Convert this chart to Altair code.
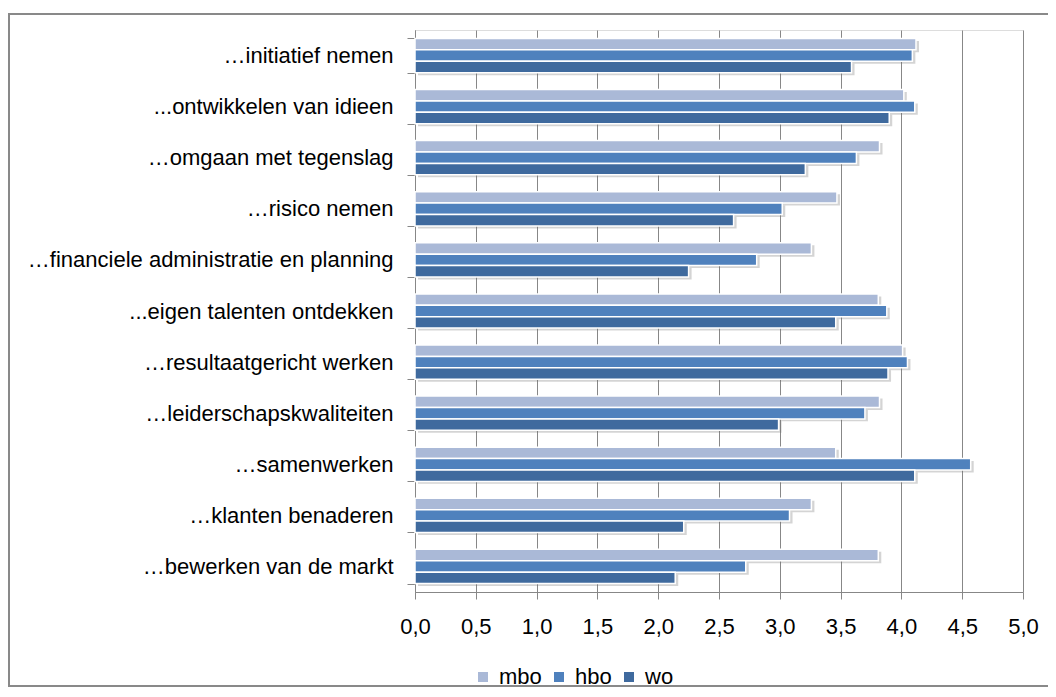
import altair as alt
import pandas as pd

categories = [
    "…initiatief nemen",
    "...ontwikkelen van idieen",
    "…omgaan met tegenslag",
    "…risico nemen",
    "…financiele administratie en planning",
    "...eigen talenten ontdekken",
    "…resultaatgericht werken",
    "…leiderschapskwaliteiten",
    "…samenwerken",
    "…klanten benaderen",
    "…bewerken van de markt",
]
series = ["mbo", "hbo", "wo"]
mbo = [4.12, 4.02, 3.82, 3.47, 3.26, 3.81, 4.01, 3.82, 3.46, 3.26, 3.81]
hbo = [4.09, 4.11, 3.63, 3.02, 2.81, 3.88, 4.05, 3.70, 4.57, 3.08, 2.72]
wo = [3.59, 3.90, 3.21, 2.62, 2.25, 3.46, 3.89, 2.99, 4.11, 2.21, 2.14]
colors = ["#AAB9D7", "#4F81BD", "#3F6A9E"]
x_ticks = [0, 0.5, 1, 1.5, 2, 2.5, 3, 3.5, 4, 4.5, 5]

rows = []
for name, vals in zip(series, [mbo, hbo, wo]):
    for c, v in zip(categories, vals):
        rows.append({"categorie": c, "reeks": name, "waarde": v})
df = pd.DataFrame(rows)

FONT = "Liberation Sans"
GRAY = "#878787"

y_enc = alt.Y(
    "categorie:N",
    sort=categories,
    scale=alt.Scale(paddingInner=0.33, paddingOuter=0.165),
    axis=alt.Axis(
        title=None, tickBand="extent", tickSize=8, labelPadding=14,
        labelFontSize=22, labelColor="black", labelFont=FONT,
        domainColor=GRAY, tickColor=GRAY, grid=False, labelLimit=500,
    ),
)
x_enc = alt.X(
    "waarde:Q",
    scale=alt.Scale(domain=[0, 5], nice=False),
    axis=alt.Axis(
        title=None, values=x_ticks,
        labelExpr="replace(format(datum.value, '.1f'), '.', ',')",
        grid=True, gridColor=GRAY, gridWidth=1, tickColor=GRAY, tickSize=7,
        domainColor=GRAY, labelFontSize=22, labelColor="black", labelFont=FONT,
        labelPadding=17, labelFlush=False, labelOverlap=False,
    ),
)

base = alt.Chart(df)

shadow = base.mark_bar(color="#6f6f6f", opacity=0.3, xOffset=3, x2Offset=2).encode(
    y=y_enc,
    x=x_enc,
    yOffset=alt.YOffset("reeks:N", sort=series,
                        scale=alt.Scale(range=[2.5, 36.7], paddingInner=0)),
)

bars = base.mark_bar(stroke="white", strokeWidth=1.5).encode(
    y=y_enc,
    x=x_enc,
    yOffset=alt.YOffset("reeks:N", sort=series, scale=alt.Scale(paddingInner=0)),
    color=alt.Color(
        "reeks:N", sort=series,
        scale=alt.Scale(domain=series, range=colors),
        legend=alt.Legend(
            title=None, orient="none", legendX=57, legendY=636,
            direction="horizontal", symbolType="square", symbolSize=100,
            symbolStrokeWidth=0, labelFontSize=22, labelFont=FONT,
            labelColor="black", columnPadding=6, labelOffset=5,
        ),
    ),
)

frame = alt.Chart(pd.DataFrame({"a": [0]})).mark_rect(
    fill="white", fillOpacity=0, stroke="#898989", strokeWidth=2
).encode(
    x=alt.value(-406), x2=alt.value(660), y=alt.value(-16), y2=alt.value(656)
)

chart = (
    alt.layer(frame, shadow, bars)
    .resolve_scale(yOffset="independent")
    .properties(
        width=608, height=562,
        autosize=alt.AutoSizeParams(type="none"),
        padding={"left": 407, "top": 22, "right": 25, "bottom": 96},
    )
    .configure_view(stroke=None)
    .configure(background="white")
)

chart.save("out.html", embed_options={"renderer": "svg", "actions": False})
